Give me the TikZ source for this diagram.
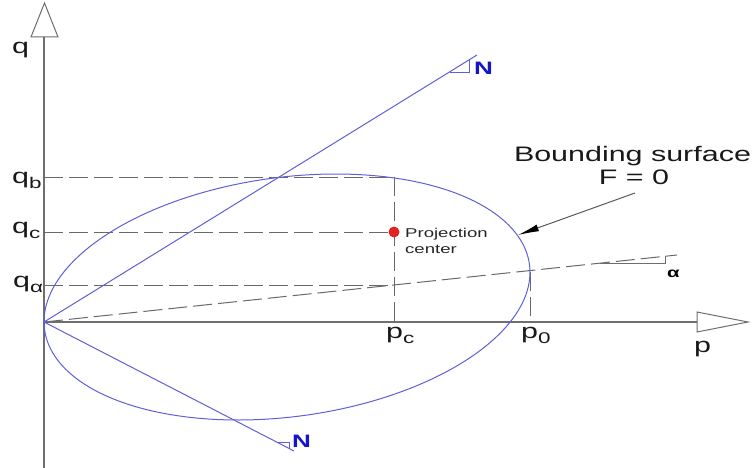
\documentclass[tikz,border=0pt]{standalone}
\usepackage{fontspec}
\setmainfont[FakeStretch=1.45]{Liberation Sans}
\usetikzlibrary{arrows.meta}
\definecolor{axisgray}{RGB}{110,110,110}
\definecolor{dashgray}{RGB}{105,105,105}
\definecolor{nblue}{RGB}{95,95,215}
\definecolor{labelblue}{RGB}{20,20,200}
\definecolor{dotred}{RGB}{225,35,35}
\newcommand{\sbs}[1]{\raisebox{-4.4pt}{\fontsize{15.5}{15}\selectfont #1}}
\tikzset{
  axisline/.style={draw=axisgray, line width=1.1pt},
  arrowtri/.style={draw=axisgray, fill=white, line width=1pt, line join=miter},
  dashline/.style={draw=dashgray, line width=1pt, dash pattern=on 19pt off 6pt},
  nline/.style={draw=nblue, line width=1pt},
  markline/.style={draw=axisgray, line width=0.9pt},
  nmark/.style={draw=nblue, line width=0.9pt},
  biglbl/.style={inner sep=0, anchor=base west, font=\fontsize{21}{25}\selectfont, text=black!90},
  smalllbl/.style={inner sep=0, anchor=base west, font=\fontsize{12.8}{15}\selectfont, text=black!85},
  nlbl/.style={inner sep=0, anchor=base west, font=\fontsize{18}{20}\selectfont\bfseries, text=labelblue},
  pointer/.style={draw=black!65, line width=1pt, -{Latex[length=21pt,width=7pt,color=black]}}
}
\begin{document}
\begin{tikzpicture}[x=1pt,y=-1pt]
\useasboundingbox (0,0) rectangle (755,468);
% key points
\coordinate (O) at (44,322);
\coordinate (qBot) at (44,468);
\coordinate (qTop) at (44,37);
\coordinate (pEnd) at (697,322);
\coordinate (qbL) at (44,177);
\coordinate (qbR) at (394,177);
\coordinate (pcB) at (394,322);
\coordinate (qcL) at (44,232);
\coordinate (qaL) at (44,285.6);
\coordinate (qaR) at (394,285.6);
\coordinate (aEnd) at (677,255);
\coordinate (p0T) at (530,272);
\coordinate (p0B) at (530,322);
\coordinate (nUp) at (477,55);
\coordinate (nDn) at (294,451);
\coordinate (bsStart) at (635,193);
\coordinate (bsTip) at (518,235);
% axes
\draw[axisline] (qBot) -- (qTop);
\draw[axisline] (O) -- (pEnd);
\draw[arrowtri] (31,37) -- (58,37) -- (44.5,3) -- cycle;
\draw[arrowtri] (697,312) -- (697,332) -- (748,322) -- cycle;
% dashed guides
\draw[dashline] (qbL) -- (qbR) -- (pcB);
\draw[dashline] (qaL) -- (qaR);
\draw[dashline] (O) -- (aEnd);
\draw[dashline] (p0T) -- (p0B);
% red dot
\node[circle, fill=dotred, minimum size=11pt, inner sep=0] (pcdot) at (394,232) {};
\draw[dashline] (qcL) -- (pcdot.west);
% ellipse
\draw[nline] plot[domain=0:360, samples=200, smooth] ({287+243*cos(\x)},{297-24.7*cos(\x)-120.5*sin(\x)}) -- cycle;
% N lines
\draw[nline] (O) -- (nUp);
\draw[nline] (O) -- (nDn);
\draw[nmark] (449.5,72) -- (469,72) -- (469,59.9);
\draw[nmark] (276.6,442) -- (289,442) -- (289,448.4);
% alpha mark
\draw[markline] (600,263.2) -- (665,263.2) -- (665,256.3);
% pointer
\draw[pointer] (bsStart) -- (bsTip);
% labels
\node[biglbl] (lq) at (12,54) {q};
\node[biglbl] (lp) at (694,352.6) {p};
\node[biglbl] (lqb) at (12,183.6) {q\sbs{b}};
\node[biglbl] (lqc) at (12,233.6) {q\sbs{c}};
\node[biglbl] (lqa) at (13,287.6) {q\sbs{α}};
\node[biglbl] (lpc) at (386,338.6) {p\sbs{c}};
\node[biglbl] (lp0) at (521,338.6) {p\sbs{0}};
\node[biglbl, anchor=base] (lbs) at (632.5,161) {Bounding surface};
\node[biglbl, anchor=base] (lf) at (634,185) {F = 0};
\node[smalllbl] (lpr1) at (405,237) {Projection};
\node[smalllbl] (lpr2) at (405,253) {center};
\node[nlbl] (ln1) at (474,75) {N};
\node[nlbl] (ln2) at (292,447) {N};
\node[inner sep=0, anchor=base west, font=\fontsize{14}{16}\selectfont\bfseries] (lal) at (667,277) {α};
\end{tikzpicture}
\end{document}
